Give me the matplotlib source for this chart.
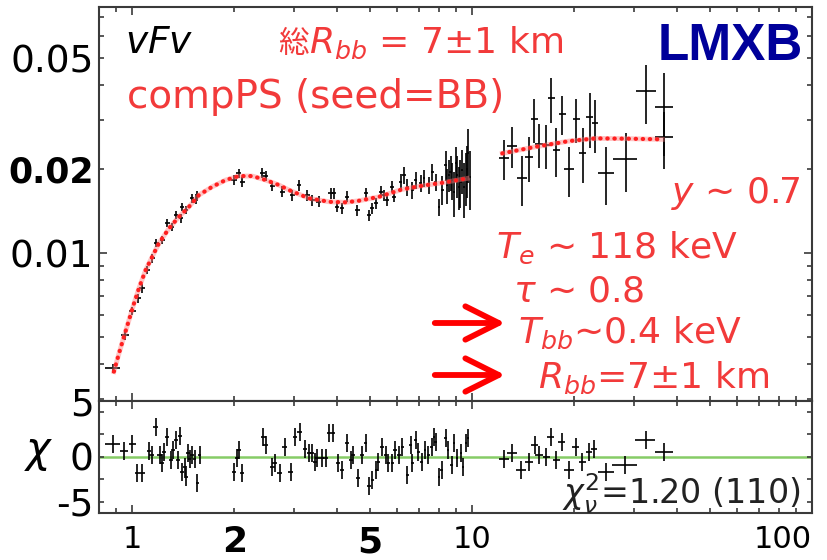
import matplotlib
matplotlib.use("Agg")
import matplotlib.pyplot as plt
import matplotlib.transforms as mtransforms
from matplotlib.ticker import FixedLocator, FixedFormatter, NullFormatter

plt.rcParams['font.family'] = ['DejaVu Sans', 'Noto Sans CJK JP']
plt.rcParams['mathtext.fontset'] = 'dejavusans'

# -----------------------------
# data (keV, nuFnu)
# -----------------------------
# model, soft part and hard part
model_lo_e = [0.885, 0.916, 0.947, 0.980, 1.014, 1.048, 1.097, 1.147, 1.200, 1.285,
              1.375, 1.471, 1.574, 1.723, 1.886, 2.064, 2.259, 2.474, 2.706, 2.896,
              3.316, 3.797, 4.251, 4.652, 5.328, 6.237, 7.142, 8.177, 9.687]
model_lo_f = [0.00376, 0.00437, 0.00501, 0.00575, 0.00660, 0.00747, 0.00869, 0.00970, 0.01083, 0.01226,
              0.01349, 0.01465, 0.01614, 0.01729, 0.01827, 0.01888, 0.01888, 0.01827, 0.01753, 0.01682,
              0.01571, 0.01527, 0.01520, 0.01540, 0.01591, 0.01692, 0.01743, 0.01786, 0.01852]
model_hi_e = [12.28, 15.39, 19.29, 23.11, 29.0, 36.28]
model_hi_f = [0.02277, 0.02404, 0.02520, 0.02577, 0.02570, 0.02556]

# spectrum, soft band
soft_e = [0.879, 0.954, 1.002, 1.041, 1.072, 1.109, 1.147, 1.179, 1.228, 1.270,
          1.309, 1.345, 1.391, 1.400, 1.445, 1.504, 1.539, 1.556, 1.995, 2.064,
          2.110, 2.416, 2.474, 2.586, 2.768, 2.961, 3.099, 3.278, 3.391, 3.548,
          3.841, 3.928, 4.017, 4.155, 4.298, 4.599, 4.868, 4.978, 5.091, 5.210,
          5.389, 5.511, 5.635, 5.829, 5.896, 6.169, 6.310, 6.452, 6.673, 6.829,
          7.064, 7.224, 7.472, 7.641, 7.819, 7.996, 8.177, 8.367, 8.557, 8.751,
          8.955, 9.157, 9.365, 9.583, 9.752,
          8.45, 8.65, 8.85, 9.05, 9.25, 9.47, 9.68, 9.85]
soft_f = [0.00386, 0.00508, 0.00621, 0.00688, 0.00747, 0.00869, 0.00957, 0.01089, 0.01113, 0.01284,
          0.01242, 0.01369, 0.01332, 0.01465, 0.01426, 0.01571, 0.01549, 0.01614, 0.01827, 0.01931,
          0.01801, 0.01940, 0.01888, 0.01739, 0.01659, 0.01614, 0.01753, 0.01614, 0.01549, 0.01527,
          0.01637, 0.01637, 0.01465, 0.01446, 0.01591, 0.01426, 0.01637, 0.01369, 0.01446, 0.01507,
          0.01659, 0.01614, 0.01549, 0.01729, 0.01591, 0.01801, 0.01904, 0.01729, 0.01682, 0.01827,
          0.01778, 0.01852, 0.01753, 0.01956, 0.01801, 0.01465, 0.01682, 0.02068, 0.01904, 0.01827,
          0.02097, 0.01729, 0.01984, 0.01877, 0.02277,
          0.01750, 0.01950, 0.01650, 0.01900, 0.01800, 0.01720, 0.02000, 0.01880]
soft_ferr = [0.00014, 0.00018, 0.00022, 0.00024, 0.00026, 0.00030, 0.00033, 0.00038, 0.00039, 0.00045,
             0.00043, 0.00048, 0.00047, 0.00051, 0.00050, 0.00055, 0.00054, 0.00056, 0.00073, 0.00077,
             0.00072, 0.00078, 0.00076, 0.00070, 0.00075, 0.00073, 0.00079, 0.00073, 0.00070, 0.00069,
             0.00074, 0.00074, 0.00066, 0.00065, 0.00072, 0.00064, 0.00074, 0.00062, 0.00065, 0.00068,
             0.00075, 0.00073, 0.00070, 0.00078, 0.00072, 0.00126, 0.00133, 0.00121, 0.00118, 0.00128,
             0.00124, 0.00130, 0.00123, 0.00137, 0.00126, 0.00103, 0.00200, 0.00250, 0.00250, 0.00280,
             0.00300, 0.00300, 0.00350, 0.00400, 0.00500,
             0.00250, 0.00280, 0.00300, 0.00320, 0.00350, 0.00380, 0.00420, 0.00450]
soft_eerr = [0.044, 0.026, 0.025, 0.020, 0.020, 0.020, 0.020, 0.020, 0.020, 0.020,
             0.020, 0.020, 0.020, 0.020, 0.020, 0.020, 0.020, 0.020, 0.035, 0.035,
             0.035, 0.040, 0.040, 0.045, 0.045, 0.050, 0.050, 0.055, 0.055, 0.060,
             0.060, 0.060, 0.060, 0.060, 0.065, 0.070, 0.070, 0.070, 0.070, 0.070,
             0.075, 0.075, 0.075, 0.080, 0.080, 0.070, 0.070, 0.070, 0.070, 0.070,
             0.070, 0.070, 0.070, 0.070, 0.070, 0.070, 0.070, 0.070, 0.070, 0.070,
             0.070, 0.070, 0.070, 0.070, 0.070,
             0.070, 0.070, 0.070, 0.070, 0.070, 0.070, 0.070, 0.070]

# spectrum, hard band
hard_e = [12.42, 13.14, 14.01, 14.71, 15.25, 15.74, 16.54, 17.11, 17.70, 18.44,
          19.29, 20.27, 21.21, 22.19, 23.00, 24.83, 28.32, 32.55, 36.71, 36.71]
hard_f = [0.02185, 0.02419, 0.01852, 0.02203, 0.03015, 0.02459, 0.02438, 0.03585, 0.02340, 0.03150,
          0.01995, 0.03015, 0.02288, 0.03064, 0.02916, 0.01940, 0.02173, 0.03817, 0.03329, 0.02598]
hard_ferr = [0.0036, 0.0040, 0.0038, 0.0040, 0.0054, 0.0044, 0.0044, 0.0065, 0.0047, 0.0050,
             0.0041, 0.0054, 0.0051, 0.0069, 0.0063, 0.0045, 0.0052, 0.0092, 0.0110, 0.0060]
hard_eerr = [0.42, 0.45, 0.48, 0.40, 0.36, 0.43, 0.40, 0.40, 0.40, 0.45,
             0.65, 0.50, 0.50, 0.50, 0.50, 1.35, 2.30, 2.20, 2.25, 2.25]

# residuals (chi)
res_e = [0.879, 0.947, 1.002, 1.036, 1.072, 1.122, 1.143, 1.174, 1.206, 1.228,
         1.242, 1.270, 1.299, 1.320, 1.345, 1.366, 1.381, 1.406, 1.429, 1.445,
         1.461, 1.478, 1.504, 1.529, 1.556, 1.582,
         1.995, 2.040, 2.064, 2.110,
         2.433, 2.474, 2.586, 2.629, 2.724, 2.813, 2.930, 3.016, 3.114, 3.228,
         3.316, 3.391, 3.453, 3.508, 3.614, 3.713, 3.797, 3.902, 4.044, 4.155,
         4.281, 4.398, 4.467, 4.630, 4.757, 4.868, 4.978, 5.091, 5.230, 5.301,
         5.447, 5.574, 5.673, 5.829, 5.936, 6.099, 6.237, 6.452, 6.603, 6.673,
         6.829, 6.950, 7.112, 7.272, 7.437, 7.610, 7.728, 7.819, 7.996, 8.145,
         8.367, 8.516, 8.715, 8.853, 9.053, 9.264, 9.409, 9.583, 9.752,
         12.42, 13.09, 13.91, 14.71, 15.29, 15.74, 16.54, 17.04, 17.70, 18.35,
         19.29, 20.18, 21.11, 22.08, 22.85, 24.83, 28.18, 32.43, 36.71]
res_chi = [1.38, 0.67, 1.38, -1.78, -1.78, 0.67, 0.19, 3.33, 0.19, -0.73,
           0.56, 2.16, -0.37, 0.74, 1.86, -0.37, 2.30, -1.67, -1.11, -2.29,
           0.38, -0.29, 0.19, -0.29, -2.96, 0.19,
           -1.67, -0.18, 0.74, -1.84,
           2.16, 1.30, -1.11, -0.67, -1.78, 1.04, -1.67, 2.16, 2.78, 0.82,
           0.38, 0.38, -0.56, -0.18, -0.18, -0.18, 2.60, 2.60, -0.73, -1.48,
           1.49, -0.37, 0.19, -2.40, 0.19, 1.49, -3.26, -2.59, -1.48, -0.56,
           1.11, 0.19, -0.73, -0.73, 0.74, 0.19, 1.11, -2.03, 1.30, -0.73,
           1.86, 0.56, -0.56, 0.74, 0.19, 1.11, 2.22, 1.67, -2.22, -1.48,
           2.04, 0.74, -0.92, 1.49, -0.18, 0.38, -1.11, 1.49, 2.04,
           -0.29, 0.38, -1.48, -0.56, 1.30, 0.19, 0.00, 2.22, -0.37, 1.67,
           -1.48, 1.11, -0.56, 0.56, 0.82, -1.67, -0.92, 1.86, 0.56]
res_eerr = [0.044, 0.025, 0.025, 0.018, 0.018, 0.018, 0.018, 0.018, 0.018, 0.018,
            0.018, 0.018, 0.018, 0.018, 0.018, 0.018, 0.018, 0.018, 0.018, 0.018,
            0.018, 0.018, 0.018, 0.018, 0.018, 0.018,
            0.030, 0.030, 0.030, 0.030,
            0.040, 0.040, 0.040, 0.040, 0.045, 0.045, 0.045, 0.050, 0.050, 0.050,
            0.050, 0.050, 0.050, 0.050, 0.055, 0.055, 0.055, 0.055, 0.060, 0.060,
            0.060, 0.060, 0.060, 0.060, 0.060, 0.060, 0.060, 0.060, 0.060, 0.060,
            0.065, 0.065, 0.065, 0.065, 0.065, 0.065, 0.065, 0.070, 0.070, 0.070,
            0.070, 0.070, 0.070, 0.070, 0.070, 0.070, 0.070, 0.070, 0.070, 0.070,
            0.070, 0.070, 0.070, 0.070, 0.070, 0.070, 0.070, 0.070, 0.070,
            0.42, 0.45, 0.48, 0.40, 0.36, 0.43, 0.40, 0.40, 0.40, 0.45,
            0.65, 0.50, 0.50, 0.50, 0.50, 1.35, 2.30, 2.20, 2.25]
res_chierr = 1.0

x_ticks = [1, 2, 5, 10, 100]
x_labels = ['1', '2', '5', '10', '100']
x_minor = [0.8, 0.9, 3, 4, 6, 7, 8, 9, 20, 30, 40, 50, 60, 70, 80, 90]
y_ticks = [0.01, 0.02, 0.05]
y_labels = ['0.01', '0.02', '0.05']
y_minor = [0.003, 0.004, 0.005, 0.006, 0.007, 0.008, 0.009, 0.03, 0.04, 0.06, 0.07]
r_ticks = [-5, 0, 5]
r_labels = ['-5', '0', '5']
r_minor = [-2.5, 2.5]

RED = '#f23a3a'
SPINE = '#3a3a3a'

# -----------------------------
# figure
# -----------------------------
W, H = 827, 560
fig = plt.figure(figsize=(W / 100, H / 100), dpi=100)
ax = fig.add_axes([99 / W, 1 - 401 / H, 713 / W, 394 / H])
axr = fig.add_axes([99 / W, 1 - 513 / H, 713 / W, 112 / H])

ekw = dict(fmt='none', ecolor='black', elinewidth=1.2, capsize=0, zorder=2)
ax.errorbar(soft_e, soft_f, xerr=soft_eerr, yerr=soft_ferr, **ekw)
ax.errorbar(hard_e, hard_f, xerr=hard_eerr, yerr=hard_ferr, **ekw)

for me, mf in [(model_lo_e, model_lo_f), (model_hi_e, model_hi_f)]:
    ax.plot(me, mf, color='#ff8080', lw=3.5, alpha=0.45, zorder=3)
    ax.plot(me, mf, color='#ff1f1f', lw=3, ls=(0, (0.1, 1.6)),
            dash_capstyle='round', zorder=4)

axr.errorbar(res_e, res_chi, xerr=res_eerr, yerr=res_chierr, **ekw)
axr.axhline(0, color='#86cc66', lw=1.8, zorder=1)

for a in (ax, axr):
    a.set_xscale('log')
    a.set_xlim(0.8, 100)
    for s in a.spines.values():
        s.set_color(SPINE)
        s.set_linewidth(1.5)
    a.tick_params(which='both', direction='in', top=True, right=True,
                  color=SPINE, width=1.2)
    a.tick_params(which='major', length=6)
    a.tick_params(which='minor', length=3.6)
    a.xaxis.set_major_locator(FixedLocator(x_ticks))
    a.xaxis.set_minor_locator(FixedLocator(x_minor))
    a.xaxis.set_minor_formatter(NullFormatter())

ax.set_yscale('log')
ax.set_ylim(0.00295, 0.0762)
ax.yaxis.set_major_locator(FixedLocator(y_ticks))
ax.yaxis.set_major_formatter(FixedFormatter(y_labels))
ax.yaxis.set_minor_locator(FixedLocator(y_minor))
ax.yaxis.set_minor_formatter(NullFormatter())
ax.tick_params(axis='x', labelbottom=False)
ax.tick_params(axis='y', labelsize=27, pad=4)
yt = ax.yaxis.get_major_ticks()
yt[1].label1.set_fontweight('bold')
yt[1].label1.set_fontsize(25)
for t in yt[1:]:
    t.tick1line.set_markersize(3.6)
    t.tick2line.set_markersize(3.6)

axr.set_ylim(-6.25, 6.2)
axr.yaxis.set_major_locator(FixedLocator(r_ticks))
axr.yaxis.set_major_formatter(FixedFormatter(r_labels))
axr.yaxis.set_minor_locator(FixedLocator(r_minor))
axr.tick_params(axis='y', which='major', length=3.6, labelsize=27, pad=4)
axr.xaxis.set_major_formatter(FixedFormatter(x_labels))
axr.tick_params(axis='x', labelsize=22, pad=9)
rt = axr.yaxis.get_major_ticks()
rt[2].label1.set_transform(rt[2].label1.get_transform() +
                           mtransforms.ScaledTranslation(0, 10 / 100, fig.dpi_scale_trans))
xt = axr.xaxis.get_major_ticks()
for i in (1, 2):
    xt[i].label1.set_fontweight('bold')
    xt[i].label1.set_fontsize(26)
    for a in (ax, axr):
        a.xaxis.get_major_ticks()[i].tick1line.set_markersize(3.6)
        a.xaxis.get_major_ticks()[i].tick2line.set_markersize(3.6)
xt[4].label1.set_horizontalalignment('right')


def fx(px):
    return px / W


def fy(py):
    return 1 - py / H


# -----------------------------
# annotations
# -----------------------------
fig.text(fx(125), fy(53), r'$vFv$', fontsize=27, color='black', va='baseline')
fig.text(fx(278), fy(53), '総', family='Noto Sans CJK JP', fontsize=22, color=RED, va='baseline')
fig.text(fx(309), fy(53), r'$R_{bb}$ = 7±1 km', fontsize=26, color=RED, va='baseline')
fig.text(fx(127), fy(108), 'compPS (seed=BB)', fontsize=28, color=RED, va='baseline')
fig.text(fx(803), fy(60), 'LMXB', family='Liberation Sans', fontweight='bold',
         fontsize=37, color='#00009a', ha='right', va='baseline')

fig.text(fx(800), fy(203), r'$y$ ∼ 0.7', fontsize=26, color=RED, ha='right', va='baseline')
fig.text(fx(496), fy(258), r'$T_e$ ∼ 118 keV', fontsize=26, color=RED, va='baseline')
fig.text(fx(513), fy(301), r'$\tau$ ∼ 0.8', fontsize=26, color=RED, va='baseline')
fig.text(fx(518), fy(343), r'$T_{bb}$∼0.4 keV', fontsize=26, color=RED, va='baseline')
fig.text(fx(538), fy(388), r'$R_{bb}$=7±1 km', fontsize=26, color=RED, va='baseline')

for py in (323, 375):
    fig.add_artist(matplotlib.patches.FancyArrowPatch(
        (fx(432), fy(py)), (fx(508), fy(py)), transform=fig.transFigure,
        arrowstyle='->,head_length=1.2,head_width=0.6', mutation_scale=20,
        color='#ff0000', lw=4.2, capstyle='round', joinstyle='round'))

fig.text(fx(562), fy(505), r'$\chi^2_{\nu}$=1.20 (110)', fontsize=24, color='#222222', va='baseline')
fig.text(fx(24), fy(452), r'$\chi$', fontsize=30, color='black', va='center')

fig.savefig('out.png', dpi=100)
